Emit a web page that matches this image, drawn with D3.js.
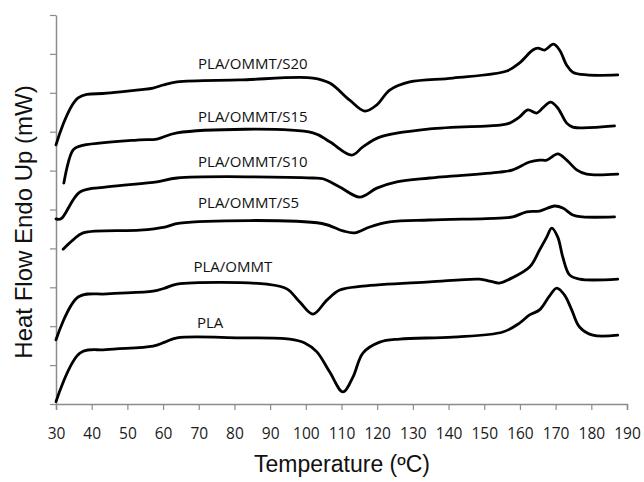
<!DOCTYPE html>
<html>
<head>
<meta charset="utf-8">
<script src="https://cdn.jsdelivr.net/npm/d3@7"></script>
<style>
  body { margin: 0; background: #fff; }
  svg { display: block; }
</style>
</head>
<body>
<svg id="chart" width="644" height="482"></svg>
<script>
// temperature (°C) and heat flow (arbitrary, stacked)
const plaT = [30, 36.7, 44, 57.2, 60.5, 63.9, 81.5, 95.5, 99.7, 103.1, 106.7, 110.4, 113.2, 116, 120.7, 126.3, 141.2, 155.2, 159.9, 162.7, 165.5, 168.3, 170.3, 172.5, 174.5, 176.7, 180.4, 187.4];
const plaV = [0.06, 1.31, 1.4, 1.49, 1.59, 1.7, 1.7, 1.67, 1.57, 1.34, 0.82, 0.31, 0.69, 1.31, 1.59, 1.67, 1.72, 1.85, 2.08, 2.29, 2.42, 2.78, 2.98, 2.8, 2.42, 1.98, 1.77, 1.77];

const ommtT = [30, 36.2, 44.3, 57.2, 60.5, 63.9, 89.1, 94.7, 98.3, 102, 105.9, 109.5, 116, 134.7, 148.7, 151.5, 154.3, 157.1, 162.7, 165.5, 167.5, 168.9, 170.6, 172, 173.9, 176.7, 187.4];
const ommtV = [1.65, 2.75, 2.83, 2.9, 2.98, 3.08, 3.08, 2.96, 2.62, 2.31, 2.67, 2.93, 3.03, 3.14, 3.21, 3.16, 3.11, 3.21, 3.52, 3.96, 4.29, 4.52, 4.29, 3.78, 3.32, 3.21, 3.21];

const s5T = [32, 34.8, 37.6, 53.5, 60.5, 64.7, 104.5, 110.4, 113.7, 117.9, 123.5, 134.7, 154.3, 158, 161.9, 165.5, 169.7, 172, 174.8, 177.6, 186.5];
const s5V = [3.98, 4.22, 4.4, 4.47, 4.55, 4.65, 4.64, 4.45, 4.4, 4.55, 4.68, 4.73, 4.78, 4.81, 4.94, 4.96, 5.09, 5.04, 4.86, 4.81, 4.81];

const s10T = [30, 31.4, 36.7, 44.3, 58.3, 63.9, 102, 104.8, 109.5, 115.1, 119.9, 125.5, 134.7, 154.3, 158, 162.7, 165.5, 167.5, 170.6, 173.1, 175.9, 178.7, 187.4];
const s10V = [4.76, 4.76, 5.45, 5.58, 5.71, 5.81, 5.81, 5.79, 5.58, 5.32, 5.55, 5.71, 5.81, 5.96, 6.02, 6.22, 6.27, 6.27, 6.43, 6.27, 6.02, 5.91, 5.91];

const s15T = [32.2, 34.8, 36.7, 53.5, 58.3, 63.9, 102, 106.7, 112.9, 116, 120.7, 134.7, 154.3, 157.1, 159.9, 162.2, 164.7, 166.4, 168.6, 170.6, 173.1, 174.8, 186.5];
const s15V = [5.68, 6.53, 6.63, 6.79, 6.81, 6.97, 6.97, 6.74, 6.4, 6.61, 6.86, 7.07, 7.17, 7.22, 7.38, 7.56, 7.48, 7.61, 7.76, 7.61, 7.22, 7.12, 7.15];

const s20T = [30, 36.2, 44.3, 57.2, 60, 63.9, 81.5, 102, 106.7, 112.3, 116.5, 119.9, 123.5, 129.1, 141.2, 156.3, 159.9, 163.6, 165, 166.9, 169.4, 171.1, 173.1, 174.8, 178.7, 187.4];
const s20V = [6.66, 7.87, 7.99, 8.12, 8.2, 8.28, 8.33, 8.38, 8.25, 7.81, 7.53, 7.69, 8.07, 8.28, 8.38, 8.56, 8.77, 9.1, 9.15, 9.1, 9.25, 9.1, 8.71, 8.53, 8.46, 8.46];

const seriesNames = ["PLA", "PLA/OMMT", "PLA/OMMT/S5", "PLA/OMMT/S10", "PLA/OMMT/S15", "PLA/OMMT/S20"];
const seriesT = [plaT, ommtT, s5T, s10T, s15T, s20T];
const seriesV = [plaV, ommtV, s5V, s10V, s15V, s20V];

// label anchor (temperature, value) for each curve name
const labelT = [69.5, 68.5, 69.8, 69.8, 69.8, 69.8];
const labelV = [1.95, 3.4, 5.05, 6.1, 7.25, 8.6];

const xTicks = d3.range(30, 191, 10);
const yTicks = d3.range(0, 11, 1);

const width = 644, height = 482;
const margin = { top: 15, right: 17, bottom: 78, left: 56 };

const svg = d3.select("#chart");

const x = d3.scaleLinear().domain([30, 190]).range([margin.left, width - margin.right]);
const y = d3.scaleLinear().domain([0, 10]).range([height - margin.bottom, margin.top]);

const axisColor = "#8c8c8c";

// x axis
const gx = svg.append("g")
  .attr("transform", `translate(0,${height - margin.bottom})`)
  .call(d3.axisBottom(x).tickValues(xTicks).tickSize(6).tickPadding(18).tickFormat(d3.format("d")));
gx.select(".domain").attr("stroke", axisColor).attr("stroke-width", 1.5);
gx.selectAll(".tick line").attr("stroke", axisColor).attr("stroke-width", 1.2);
gx.selectAll(".tick text")
  .attr("fill", "#1a1a1a")
  .style("font-family", "'Open Sans', sans-serif")
  .style("font-size", "15.5px");

// y axis, no labels
const gy = svg.append("g")
  .attr("transform", `translate(${margin.left},0)`)
  .call(d3.axisLeft(y).tickValues(yTicks).tickSize(6).tickSizeOuter(0).tickFormat(""));
gy.select(".domain").attr("stroke", axisColor).attr("stroke-width", 1.5);
gy.selectAll(".tick line").attr("stroke", axisColor).attr("stroke-width", 1.2);

// axis titles
svg.append("text")
  .attr("x", 342)
  .attr("y", 472)
  .attr("text-anchor", "middle")
  .attr("fill", "#111")
  .style("font-family", "'Liberation Sans', Arial, sans-serif")
  .style("font-size", "23px")
  .text("Temperature (ºC)");

svg.append("text")
  .attr("transform", "translate(32,222) rotate(-90)")
  .attr("text-anchor", "middle")
  .attr("fill", "#111")
  .style("font-family", "'Liberation Sans', Arial, sans-serif")
  .style("font-size", "24px")
  .text("Heat Flow Endo Up (mW)");

// curves
const line = d3.line()
  .x((d) => x(d[0]))
  .y((d) => y(d[1]))
  .curve(d3.curveCatmullRom.alpha(0.5));

seriesNames.forEach((name, i) => {
  const pts = seriesT[i].map((t, j) => [t, seriesV[i][j]]);
  svg.append("path")
    .attr("d", line(pts))
    .attr("fill", "none")
    .attr("stroke", "#000")
    .attr("stroke-width", 2.8)
    .attr("stroke-linejoin", "round")
    .attr("stroke-linecap", "round");

  svg.append("text")
    .attr("x", x(labelT[i]))
    .attr("y", y(labelV[i]))
    .attr("fill", "#111")
    .style("font-family", "'Open Sans', sans-serif")
    .style("font-size", "15px")
    .text(name);
});
</script>
</body>
</html>
